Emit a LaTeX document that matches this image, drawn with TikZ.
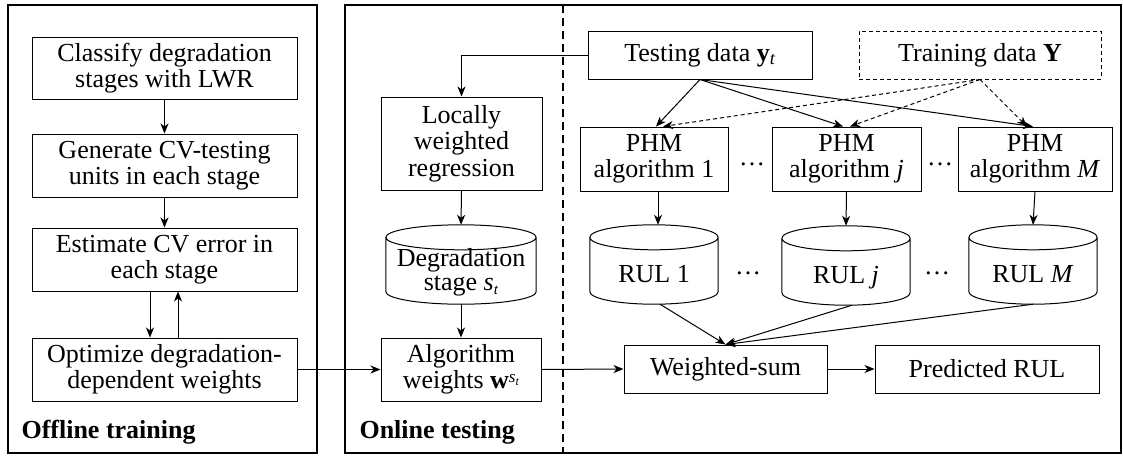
\documentclass[tikz,border=0pt]{standalone}
\usepackage{fontspec}
\setmainfont{Liberation Serif}
\usetikzlibrary{arrows.meta,calc}
\newcommand\cylinderoutline[1]{%
  \draw[line width=1pt] let \p1=(#1.north west), \p2=(#1.south east), \n1={(\x2-\x1)/2} in
    (\x1,\y1-12.5pt) -- (\x1,\y2+12.5pt)
    arc[start angle=180,end angle=360,x radius=\n1,y radius=12.5pt]
    -- (\x2,\y1-12.5pt)
    arc[start angle=0,end angle=360,x radius=\n1,y radius=12.5pt];}
\newcommand\wst{\textbf{w}\raisebox{6pt}{\fontsize{17}{17}\selectfont\textit{s}\raisebox{-3pt}{\fontsize{12}{12}\selectfont\textit{t}}}}
\newcommand\stt{\textit{s}\raisebox{-4pt}{\fontsize{15}{15}\selectfont\textit{t}}}
\tikzset{
  every node/.style={font=\fontsize{26}{26.5}\selectfont},
  box/.style={draw, line width=1pt, align=center, inner sep=0pt},
  dbox/.style={box, dash pattern=on 4pt off 3pt},
  frame/.style={draw, line width=2pt, inner sep=0pt},
  cylnode/.style={inner sep=0pt, minimum height=79pt},
  cyltext/.style={inner sep=0pt, align=center},
  arr/.style={line width=1pt, -{Stealth[length=10pt,width=8pt,inset=3pt]}},
  darr/.style={arr, dash pattern=on 4pt off 3pt},
  lbl/.style={anchor=base west, font=\fontsize{26}{26.5}\selectfont\bfseries},
  dotsnode/.style={anchor=base, inner sep=0pt}
}
\begin{document}
\begin{tikzpicture}[x=1pt,y=-1pt]
\useasboundingbox (0,0) rectangle (1123,456);
% frames
\node[frame, minimum width=309pt, minimum height=448pt] (offbox) at (162.5,229) {};
\node[frame, minimum width=776pt, minimum height=448pt] (onbox) at (733,229) {};
\draw[line width=2pt, dash pattern=on 8pt off 5pt] (563,5) -- (563,453);
\node[lbl] (offlbl) at (18,438) {Offline training};
\node[lbl] (onlbl) at (356,438) {Online testing};
% offline column
\node[box, minimum width=265pt, minimum height=62pt] (c1) at (164.5,68) {Classify degradation\\stages with LWR};
\node[box, minimum width=265pt, minimum height=63pt] (c2) at (164.5,165.5) {Generate CV-testing\\units in each stage};
\node[box, minimum width=265pt, minimum height=63pt] (c3) at (164.5,259.5) {Estimate CV error in\\each stage};
\node[box, minimum width=265pt, minimum height=63pt] (c4) at (164.5,369.5) {Optimize degradation-\\dependent weights};
% online left column
\node[box, minimum width=161pt, minimum height=93pt] (lwr) at (461.5,143.5) {Locally\\weighted\\regression};
\node[cylnode, minimum width=150pt,
  label={[cyltext, yshift=-8pt, font=\fontsize{26}{24.5}\selectfont]center:Degradation\\stage \stt}] (deg) at (461,264.5) {};
\cylinderoutline{deg}
\node[box, minimum width=160pt, minimum height=63pt] (aw) at (461,369.5) {Algorithm\\weights \wst};
% data
\node[box, minimum width=224pt, minimum height=48pt] (test) at (700,55) {Testing data \textbf{y}\textsubscript{\textit{t}}};
\node[dbox, minimum width=242pt, minimum height=48pt] (train) at (980,55) {Training data \textbf{Y}};
% PHM algorithms
\node[box, minimum width=148pt, minimum height=64pt] (p1) at (654,159) {PHM\\algorithm 1};
\node[box, minimum width=149pt, minimum height=64pt] (pj) at (846.5,159) {PHM\\algorithm \textit{j}};
\node[box, minimum width=154pt, minimum height=64pt] (pM) at (1035,159) {PHM\\algorithm \textit{M}};
\node[dotsnode] (d1) at (752,165) {…};
\node[dotsnode] (d2) at (940,165) {…};
% RUL cylinders
\node[cylnode, minimum width=128pt,
  label={[cyltext, yshift=-11.5pt, text height=18pt, text depth=6pt]center:RUL 1}] (r1) at (654,264.5) {};
\node[cylnode, minimum width=128pt,
  label={[cyltext, yshift=-11.5pt, text height=18pt, text depth=6pt]center:RUL \textit{j}}] (rj) at (846,265.5) {};
\node[cylnode, minimum width=128pt,
  label={[cyltext, yshift=-11.5pt, text height=18pt, text depth=6pt]center:RUL \textit{M}}] (rM) at (1033,264.5) {};
\cylinderoutline{r1}
\cylinderoutline{rj}
\cylinderoutline{rM}
\node[dotsnode] (d3) at (748,274) {…};
\node[dotsnode] (d4) at (937,274) {…};
% bottom row
\node[box, minimum width=203pt, minimum height=48pt] (ws) at (725.5,369) {Weighted-sum};
\node[box, minimum width=224pt, minimum height=48pt] (pr) at (987,369) {Predicted RUL};
% connectors offline
\draw[arr] (c1) -- (c2);
\draw[arr] (c2) -- (c3);
\draw[arr] ([xshift=-14.5pt]c3.south) -- ([xshift=-14.5pt]c4.north);
\draw[arr] ([xshift=13.5pt]c4.north) -- ([xshift=13.5pt]c3.south);
\draw[arr] (c4.east) -- (aw.west);
% online connectors
\draw[arr] (test.west) -| (lwr.north);
\draw[arr] (lwr.south) -- (deg.north);
\draw[arr] (deg.south) -- (aw.north);
\draw[arr] (aw.east) -- (ws.west);
\draw[arr] (ws.east) -- (pr.west);
\draw[arr] (test.south) -- ([xshift=2pt]p1.north);
\draw[arr] (test.south) -- ([xshift=-3.5pt]pj.north);
\draw[arr] (test.south) -- ([xshift=-2pt]pM.north);
\draw[darr] (train.south) -- ([xshift=9pt]p1.north);
\draw[darr] (train.south) -- ([xshift=3.5pt]pj.north);
\draw[darr] (train.south) -- ([xshift=-8pt]pM.north);
\draw[arr] ([xshift=4pt]p1.south) -- ([xshift=4pt]r1.north);
\draw[arr] (pj.south) -- (rj.north);
\draw[arr] (pM.south) -- (rM.north);
\draw[arr] ([xshift=6pt]r1.south) -- (ws.north);
\draw[arr] ([xshift=6pt]rj.south) -- (ws.north);
\draw[arr] (rM.south) -- (ws.north);
\end{tikzpicture}
\end{document}
